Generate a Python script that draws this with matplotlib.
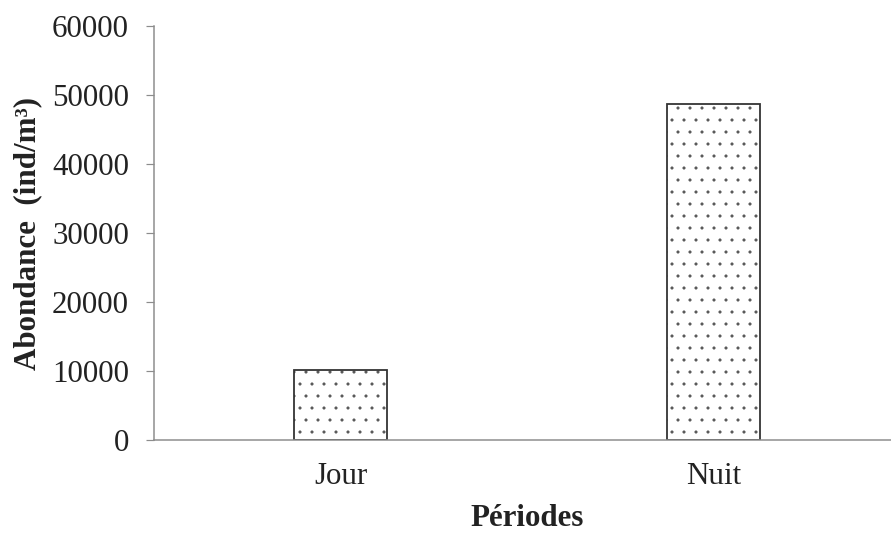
import matplotlib.pyplot as plt

# Données
periodes = ["Jour", "Nuit"]
abondance = [10200, 48700]
yticks = [0, 10000, 20000, 30000, 40000, 50000, 60000]

plt.rcParams['font.family'] = ['Liberation Serif', 'DejaVu Serif']
plt.rcParams['hatch.linewidth'] = 0.6

fig = plt.figure(figsize=(891 / 72, 533 / 72), dpi=72)
ax = fig.add_axes([154 / 891, 93 / 533, 746 / 891, 414 / 533])

x = range(len(periodes))
# pointillé gris puis contour foncé
ax.bar(x, abondance, width=0.25, color='white', edgecolor='#555555',
       linewidth=0, hatch='.')
ax.bar(x, abondance, width=0.25, fill=False, edgecolor='#333333', linewidth=1.8)

ax.set_xlim(-0.5, 1.5)
ax.set_ylim(0, 60000)
ax.set_yticks(yticks)
ax.set_yticklabels([str(v) for v in yticks])
ax.set_xticks(list(x))
ax.set_xticklabels(periodes)

for s in ['top', 'right']:
    ax.spines[s].set_visible(False)
for s in ['left', 'bottom']:
    ax.spines[s].set_color('#8c8c8c')
    ax.spines[s].set_linewidth(1.5)

ax.tick_params(axis='y', length=8, width=1.2, color='#8c8c8c', pad=17,
               labelsize=31, labelcolor='#222222')
ax.tick_params(axis='x', length=0, pad=22, labelsize=31, labelcolor='#222222')

ax.set_xlabel("Périodes", fontsize=31, fontweight='bold', labelpad=13, color='#222222')
fig.text(28 / 891, 1 - 233 / 533, "Abondance  (ind/m³)", rotation=90,
         ha='center', va='center', fontsize=31, fontweight='bold', color='#222222')

fig.savefig('out.png', dpi=72)
